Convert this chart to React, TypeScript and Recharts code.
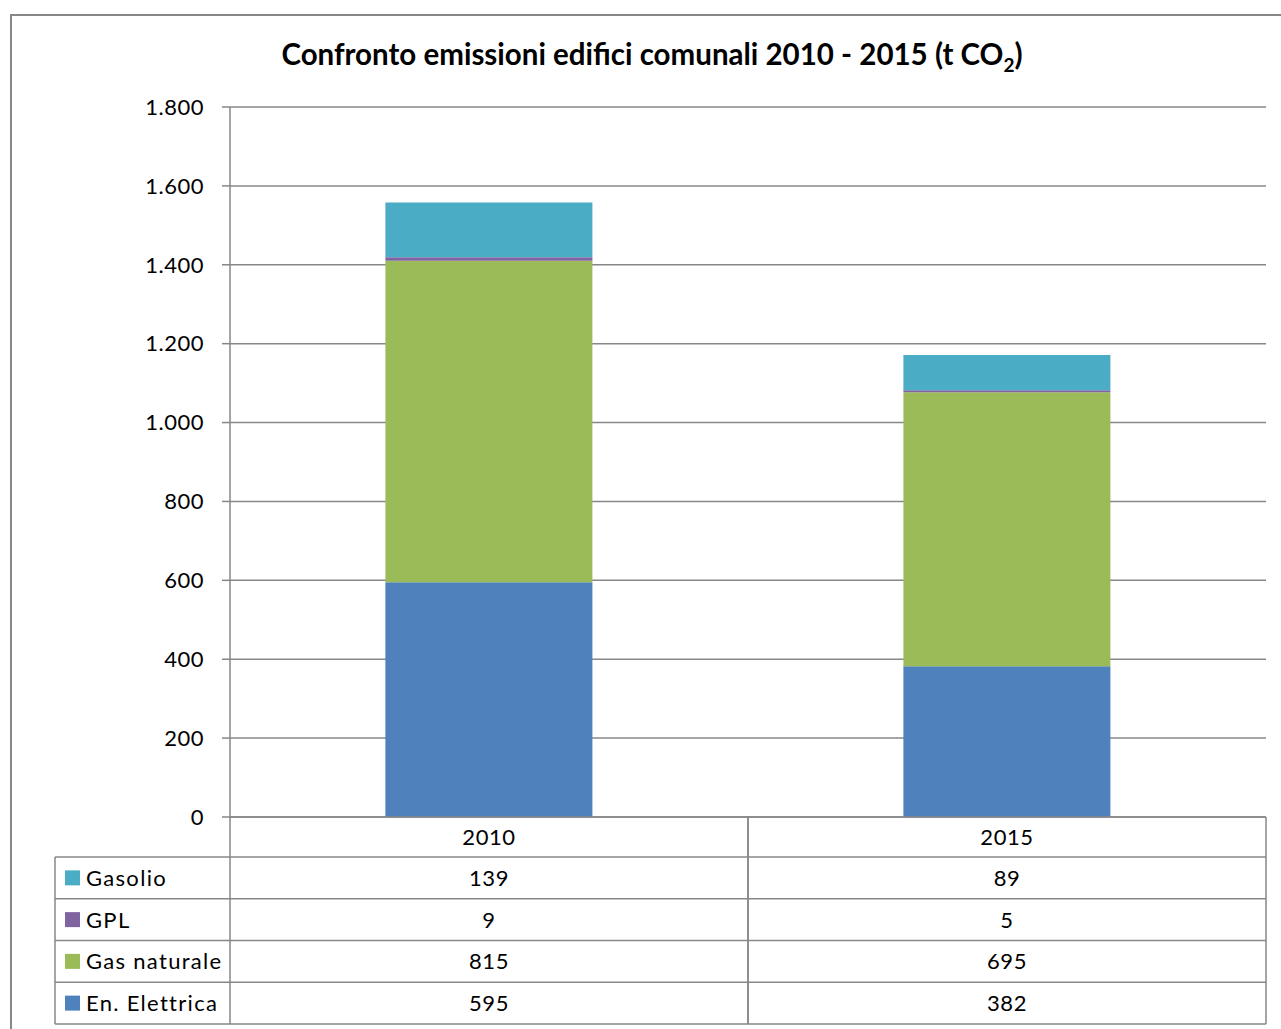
import React from 'react'
import { BarChart, Bar, XAxis, YAxis, CartesianGrid } from 'recharts'

const YEARS = ['2010', '2015']
const GASOLIO = [139, 89]
const GPL = [9, 5]
const GAS_NATURALE = [815, 695]
const EN_ELETTRICA = [595, 382]
const Y_TICKS = [0, 200, 400, 600, 800, 1000, 1200, 1400, 1600, 1800]

const SERIES = [
  { key: 'enElettrica', name: 'En. Elettrica', color: '#4F81BD', values: EN_ELETTRICA },
  { key: 'gasNaturale', name: 'Gas naturale', color: '#9BBB59', values: GAS_NATURALE },
  { key: 'gpl', name: 'GPL', color: '#8064A2', values: GPL },
  { key: 'gasolio', name: 'Gasolio', color: '#4BACC6', values: GASOLIO },
]

// table rows are listed top to bottom, reverse of the stack
const TABLE_ROWS = [...SERIES].reverse()

const data = YEARS.map((year, i) => {
  const row: Record<string, any> = { year }
  SERIES.forEach(s => { row[s.key] = s.values[i] })
  return row
})

const LINE = '#878787'
const FONT = 'Lato, "Open Sans", sans-serif'
const HEAD_H = 40
const ROW_H = 41.75
const LABEL_COL_W = 175

const fmt = (v: number) => v.toLocaleString('it-IT')

function TableColumn(props: any) {
  const { x, y, payload, index } = props
  const half = payload?.offset ?? 259
  const left = x - half
  const right = x + half
  const bounds = [y, y + HEAD_H, ...TABLE_ROWS.map((_, k) => y + HEAD_H + ROW_H * (k + 1))]
  const bottom = bounds[bounds.length - 1]
  const colIdx = YEARS.indexOf(payload.value)

  return (
    <g>
      <line x1={left} y1={y} x2={left} y2={bottom} stroke={LINE} strokeWidth={1.5} />
      <line x1={right} y1={y} x2={right} y2={bottom} stroke={LINE} strokeWidth={1.5} />
      {bounds.slice(1).map(b => (
        <line key={b} x1={left} y1={b} x2={right} y2={b} stroke={LINE} strokeWidth={1.5} />
      ))}
      <text x={x} y={y + HEAD_H / 2} dy="0.36em" textAnchor="middle" fontSize={22} letterSpacing={0.6} fill="#000">
        {payload.value}
      </text>
      {TABLE_ROWS.map((s, k) => (
        <text key={s.key} x={x} y={bounds[k + 1] + ROW_H / 2} dy="0.36em" textAnchor="middle" fontSize={22} letterSpacing={0.6} fill="#000">
          {fmt(s.values[colIdx])}
        </text>
      ))}

      {/* row headers with legend keys */}
      {index === 0 && (
        <g>
          <line x1={left - LABEL_COL_W} y1={bounds[1]} x2={left - LABEL_COL_W} y2={bottom} stroke={LINE} strokeWidth={1.5} />
          {bounds.slice(1).map(b => (
            <line key={b} x1={left - LABEL_COL_W} y1={b} x2={left} y2={b} stroke={LINE} strokeWidth={1.5} />
          ))}
          {TABLE_ROWS.map((s, k) => {
            const cy = bounds[k + 1] + ROW_H / 2
            return (
              <g key={s.key}>
                <rect x={left - LABEL_COL_W + 10} y={cy - 7.5} width={15} height={15} fill={s.color} />
                <text x={left - LABEL_COL_W + 31} y={cy} dy="0.36em" fontSize={22} letterSpacing={1.3} fill="#000">{s.name}</text>
              </g>
            )
          })}
        </g>
      )}
    </g>
  )
}

export default function App() {
  return (
    <div style={{ position: 'absolute', left: 0, top: 0, width: 1281, height: 1029, overflow: 'hidden', background: '#fff', fontFamily: FONT }}>
      <div style={{ position: 'absolute', left: 10, top: 14, width: 1300, height: 1100, border: `2px solid ${LINE}` }} />
      <div style={{ position: 'absolute', left: 0, top: 36, width: 1304, textAlign: 'center', fontWeight: 700, fontSize: 29.5, lineHeight: '36px', color: '#000' }}>
        Confronto emissioni edifici comunali 2010 - 2015 (t CO<sub style={{ fontSize: 19, lineHeight: 0 }}>2</sub>)
      </div>
      <div style={{ position: 'absolute', left: 0, top: 0 }}>
        <BarChart
          width={1281}
          height={1029}
          data={data}
          margin={{ top: 107, right: 15, bottom: 0, left: 0 }}
          barCategoryGap="30%"
        >
          <CartesianGrid vertical={false} stroke={LINE} strokeWidth={1.5} />
          <XAxis
            dataKey="year"
            height={212}
            interval={0}
            tickLine={false}
            tickSize={0}
            tickMargin={0}
            axisLine={{ stroke: LINE, strokeWidth: 1.5 }}
            tick={(p: any) => <TableColumn {...p} />}
          />
          <YAxis
            width={230}
            domain={[0, 1800]}
            ticks={Y_TICKS}
            interval={0}
            tickFormatter={fmt}
            tickSize={8}
            tickMargin={18}
            tickLine={{ stroke: LINE, strokeWidth: 1.5 }}
            axisLine={{ stroke: LINE, strokeWidth: 1.5 }}
            tick={{ fill: '#000', fontSize: 22, fontFamily: FONT, letterSpacing: 0.5 }}
          />
          {SERIES.map(s => (
            <Bar key={s.key} dataKey={s.key} name={s.name} stackId="a" fill={s.color} isAnimationActive={false} />
          ))}
        </BarChart>
      </div>
    </div>
  )
}
